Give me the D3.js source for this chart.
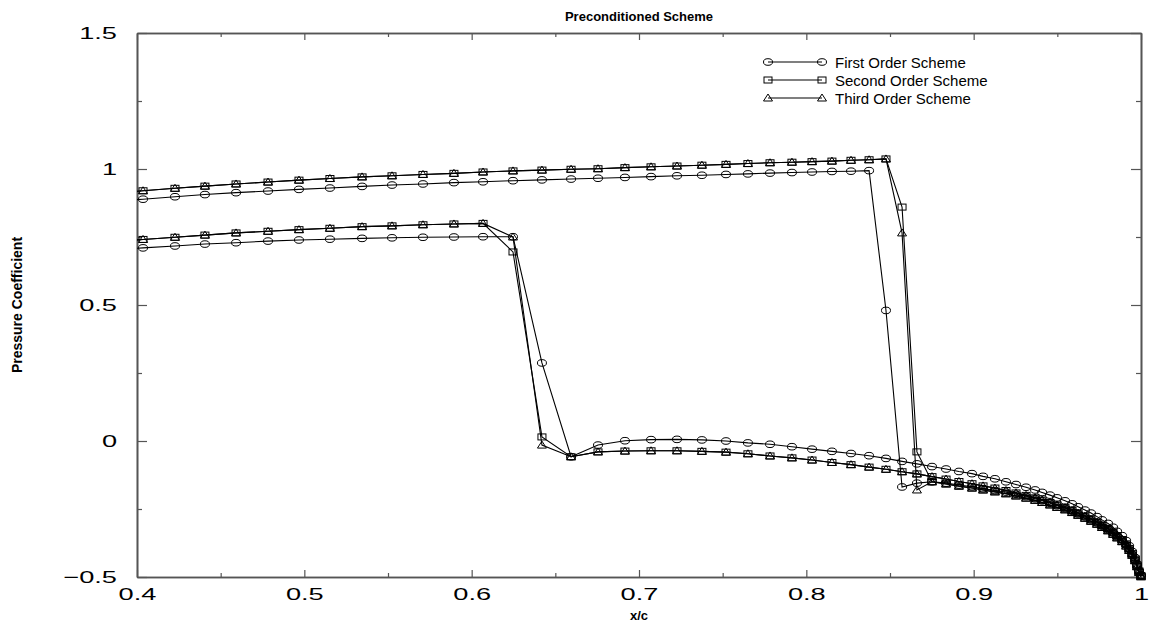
<!DOCTYPE html>
<html>
<head>
<meta charset="utf-8">
<script src="https://cdn.jsdelivr.net/npm/d3@7"></script>
<style>
  body { margin: 0; background: #fff; }
  text { font-family: "Liberation Sans", Arial, Helvetica, sans-serif; }
</style>
</head>
<body>
<script>
// chordwise stations (same grid for every scheme)
var xc = [0.3849, 0.4036, 0.4227, 0.4406, 0.4592, 0.4783, 0.4968, 0.5153, 0.5345, 0.5524,
          0.5709, 0.5894, 0.6068, 0.6247, 0.6420, 0.6594, 0.6755, 0.6916, 0.7072, 0.7227,
          0.7376, 0.7520, 0.7651, 0.7783, 0.7914, 0.8034, 0.8153, 0.8267, 0.8375, 0.8476,
          0.8572, 0.8661, 0.8751, 0.8835, 0.8912, 0.8990, 0.9056, 0.9127, 0.9193, 0.9253,
          0.9313, 0.9367, 0.9409, 0.9456, 0.9498, 0.9546, 0.9588, 0.9624, 0.9665, 0.9701,
          0.9737, 0.9767, 0.9803, 0.9833, 0.9857, 0.9887, 0.9911, 0.9929, 0.9947, 0.9964,
          0.9976, 0.9988, 1.0000];

// first order scheme
var firstUpper = [0.880, 0.889, 0.898, 0.906, 0.913, 0.919, 0.925, 0.930, 0.936, 0.941,
                  0.945, 0.950, 0.953, 0.957, 0.960, 0.963, 0.966, 0.969, 0.972, 0.975,
                  0.977, 0.980, 0.982, 0.985, 0.987, 0.989, 0.991, 0.992, 0.994, 0.480,
                  -0.169, -0.155, -0.150, -0.155, -0.162, -0.168, -0.175, -0.182, -0.188, -0.196,
                  -0.204, -0.212, -0.220, -0.229, -0.238, -0.248, -0.258, -0.268, -0.279, -0.290,
                  -0.301, -0.313, -0.325, -0.338, -0.351, -0.365, -0.381, -0.398, -0.417, -0.437,
                  -0.459, -0.480, -0.497];
var firstLower = [0.703, 0.710, 0.717, 0.724, 0.729, 0.735, 0.739, 0.742, 0.745, 0.747,
                  0.749, 0.750, 0.751, 0.751, 0.287, -0.058, -0.015, 0.001, 0.005, 0.006,
                  0.004, 0.000, -0.007, -0.012, -0.021, -0.030, -0.038, -0.046, -0.054, -0.064,
                  -0.075, -0.084, -0.094, -0.103, -0.112, -0.120, -0.130, -0.139, -0.150, -0.160,
                  -0.170, -0.180, -0.189, -0.199, -0.209, -0.220, -0.231, -0.242, -0.254, -0.265,
                  -0.278, -0.290, -0.303, -0.317, -0.332, -0.348, -0.366, -0.385, -0.406, -0.428,
                  -0.452, -0.476, -0.492];

// second order scheme
var secondUpper = [0.911, 0.920, 0.929, 0.937, 0.945, 0.952, 0.959, 0.965, 0.971, 0.975,
                   0.980, 0.984, 0.989, 0.993, 0.996, 0.999, 1.001, 1.005, 1.008, 1.011,
                   1.014, 1.017, 1.020, 1.023, 1.025, 1.027, 1.029, 1.032, 1.034, 1.037,
                   0.860, -0.040, -0.150, -0.158, -0.166, -0.173, -0.180, -0.187, -0.194, -0.202,
                   -0.210, -0.218, -0.226, -0.235, -0.244, -0.253, -0.263, -0.273, -0.284, -0.295,
                   -0.306, -0.318, -0.330, -0.343, -0.356, -0.370, -0.386, -0.402, -0.420, -0.440,
                   -0.462, -0.483, -0.499];
var secondLower = [0.733, 0.741, 0.749, 0.757, 0.765, 0.771, 0.777, 0.782, 0.788, 0.791,
                   0.795, 0.798, 0.800, 0.695, 0.015, -0.058, -0.040, -0.037, -0.036, -0.036,
                   -0.038, -0.041, -0.047, -0.055, -0.062, -0.070, -0.079, -0.087, -0.096, -0.104,
                   -0.113, -0.121, -0.131, -0.140, -0.149, -0.157, -0.165, -0.173, -0.182, -0.191,
                   -0.200, -0.209, -0.217, -0.226, -0.235, -0.245, -0.255, -0.265, -0.276, -0.287,
                   -0.298, -0.310, -0.322, -0.335, -0.348, -0.362, -0.378, -0.395, -0.414, -0.434,
                   -0.456, -0.478, -0.495];

// third order scheme
var thirdUpper = [0.911, 0.920, 0.929, 0.937, 0.945, 0.952, 0.959, 0.965, 0.971, 0.975,
                  0.980, 0.984, 0.989, 0.993, 0.996, 0.999, 1.001, 1.005, 1.008, 1.011,
                  1.014, 1.017, 1.020, 1.023, 1.025, 1.027, 1.029, 1.032, 1.034, 1.037,
                  0.765, -0.180, -0.150, -0.158, -0.166, -0.173, -0.180, -0.187, -0.194, -0.202,
                  -0.210, -0.218, -0.226, -0.235, -0.244, -0.253, -0.263, -0.273, -0.284, -0.295,
                  -0.306, -0.318, -0.330, -0.343, -0.356, -0.370, -0.386, -0.402, -0.420, -0.440,
                  -0.462, -0.483, -0.499];
var thirdLower = [0.733, 0.741, 0.749, 0.757, 0.765, 0.771, 0.777, 0.782, 0.788, 0.791,
                  0.795, 0.798, 0.800, 0.750, -0.015, -0.058, -0.040, -0.037, -0.036, -0.036,
                  -0.038, -0.041, -0.047, -0.055, -0.062, -0.070, -0.079, -0.087, -0.096, -0.104,
                  -0.113, -0.121, -0.131, -0.140, -0.149, -0.157, -0.165, -0.173, -0.182, -0.191,
                  -0.200, -0.209, -0.217, -0.226, -0.235, -0.245, -0.255, -0.265, -0.276, -0.287,
                  -0.298, -0.310, -0.322, -0.335, -0.348, -0.362, -0.378, -0.395, -0.414, -0.434,
                  -0.456, -0.478, -0.495];

var seriesNames = ["First Order Scheme", "Second Order Scheme", "Third Order Scheme"];
var seriesSymbols = ["circle", "square", "triangle"];

var xTicks = [0.4, 0.5, 0.6, 0.7, 0.8, 0.9, 1.0];
var xTickLabels = ["0.4", "0.5", "0.6", "0.7", "0.8", "0.9", "1"];
var xMinorTicks = [0.45, 0.55, 0.65, 0.75, 0.85, 0.95];
var yTicks = [-0.5, 0, 0.5, 1, 1.5];
var yTickLabels = ["\u22120.5", "0", "0.5", "1", "1.5"];
var yMinorTicks = [-0.25, 0.25, 0.75, 1.25];

var width = 1150, height = 630;
var plotLeft = 137, plotRight = 1141, plotTop = 33, plotBottom = 577;
var frameColor = "#555";

var svg = d3.select("body").append("svg")
    .attr("width", width)
    .attr("height", height);

var x = d3.scaleLinear().domain([0.4, 1.0]).range([plotLeft, plotRight]);
var y = d3.scaleLinear().domain([-0.5, 1.5]).range([plotBottom, plotTop]);

svg.append("clipPath").attr("id", "plotclip")
   .append("rect")
   .attr("x", plotLeft).attr("y", plotTop)
   .attr("width", plotRight - plotLeft).attr("height", plotBottom - plotTop);

// ---- axes (ticks point inward on all four sides)
function styleAxis(g) {
  g.selectAll("path.domain").attr("stroke", frameColor).attr("stroke-width", 1.6);
  g.selectAll(".tick line").attr("stroke", frameColor).attr("stroke-width", 1.2);
}

var xAxisBottom = svg.append("g").attr("transform", "translate(0," + plotBottom + ")")
    .call(d3.axisBottom(x).tickValues(xTicks).tickSize(-7).tickSizeOuter(0).tickPadding(11)
          .tickFormat(function(d, i) { return xTickLabels[i]; }));
svg.append("g").attr("transform", "translate(0," + plotBottom + ")")
    .call(d3.axisBottom(x).tickValues(xMinorTicks).tickSize(-4).tickSizeOuter(0).tickFormat(""))
    .call(styleAxis);
svg.append("g").attr("transform", "translate(0," + plotTop + ")")
    .call(d3.axisTop(x).tickValues(xTicks).tickSize(-7).tickSizeOuter(0).tickFormat(""))
    .call(styleAxis);
svg.append("g").attr("transform", "translate(0," + plotTop + ")")
    .call(d3.axisTop(x).tickValues(xMinorTicks).tickSize(-4).tickSizeOuter(0).tickFormat(""))
    .call(styleAxis);

var yAxisLeft = svg.append("g").attr("transform", "translate(" + plotLeft + ",0)")
    .call(d3.axisLeft(y).tickValues(yTicks).tickSize(-10).tickSizeOuter(0).tickPadding(12.5)
          .tickFormat(function(d, i) { return yTickLabels[i]; }));
svg.append("g").attr("transform", "translate(" + plotLeft + ",0)")
    .call(d3.axisLeft(y).tickValues(yMinorTicks).tickSize(-5).tickSizeOuter(0).tickFormat(""))
    .call(styleAxis);
svg.append("g").attr("transform", "translate(" + plotRight + ",0)")
    .call(d3.axisRight(y).tickValues(yTicks).tickSize(-10).tickSizeOuter(0).tickFormat(""))
    .call(styleAxis);
svg.append("g").attr("transform", "translate(" + plotRight + ",0)")
    .call(d3.axisRight(y).tickValues(yMinorTicks).tickSize(-5).tickSizeOuter(0).tickFormat(""))
    .call(styleAxis);

xAxisBottom.call(styleAxis);
yAxisLeft.call(styleAxis);

// tick labels are stretched sideways like in the original print
[xAxisBottom, yAxisLeft].forEach(function(g) {
  g.selectAll(".tick text")
   .attr("font-family", "'Liberation Sans', Arial, sans-serif")
   .attr("font-size", 17)
   .attr("fill", "#000")
   .attr("transform", "scale(1.6,1)");
});

// ---- markers
function drawSymbol(g, type, cx, cy) {
  if (type == "circle") {
    g.append("ellipse").attr("cx", cx).attr("cy", cy).attr("rx", 4.5).attr("ry", 3.3);
  } else if (type == "square") {
    g.append("rect").attr("x", cx - 4).attr("y", cy - 3).attr("width", 8).attr("height", 6);
  } else {
    g.append("path").attr("d", "M" + (cx - 4.5) + "," + (cy + 3) + "L" + cx + "," + (cy - 4) +
                               "L" + (cx + 4.5) + "," + (cy + 3) + "Z");
  }
}

var line = d3.line()
    .x(function(d) { return x(d[0]); })
    .y(function(d) { return y(d[1]); });

var allSeries = [
  [firstUpper, firstLower],
  [secondUpper, secondLower],
  [thirdUpper, thirdLower]
];

var plot = svg.append("g");

allSeries.forEach(function(branches, s) {
  branches.forEach(function(vals) {
    var pts = xc.map(function(xv, i) { return [xv, vals[i]]; });
    plot.append("path")
        .attr("d", line(pts))
        .attr("clip-path", "url(#plotclip)")
        .attr("fill", "none")
        .attr("stroke", "#000")
        .attr("stroke-width", 1.1);
    var mg = plot.append("g").attr("fill", "none").attr("stroke", "#000").attr("stroke-width", 1);
    pts.filter(function(p) { return p[0] >= 0.4; }).forEach(function(p) {
      drawSymbol(mg, seriesSymbols[s], x(p[0]), y(p[1]));
    });
  });
});

// ---- legend
var legend = svg.append("g");
seriesNames.forEach(function(name, i) {
  var ly = 62 + i * 18;
  legend.append("line")
        .attr("x1", 768).attr("x2", 822).attr("y1", ly).attr("y2", ly)
        .attr("stroke", "#000").attr("stroke-width", 1.1);
  var mg = legend.append("g").attr("fill", "none").attr("stroke", "#000").attr("stroke-width", 1);
  drawSymbol(mg, seriesSymbols[i], 768, ly);
  drawSymbol(mg, seriesSymbols[i], 822, ly);
  legend.append("text")
        .attr("x", 835).attr("y", ly + 5.5)
        .attr("font-size", 15)
        .text(name);
});

// ---- titles
svg.append("text")
   .attr("x", (plotLeft + plotRight) / 2).attr("y", 21)
   .attr("text-anchor", "middle")
   .attr("font-weight", "bold")
   .attr("font-size", 13)
   .text("Preconditioned Scheme");

svg.append("text")
   .attr("x", (plotLeft + plotRight) / 2).attr("y", 620)
   .attr("text-anchor", "middle")
   .attr("font-weight", "bold")
   .attr("font-size", 13)
   .text("x/c");

svg.append("text")
   .attr("transform", "translate(22," + ((plotTop + plotBottom) / 2) + ") rotate(-90)")
   .attr("text-anchor", "middle")
   .attr("font-family", "'Liberation Sans Narrow', 'Liberation Sans', sans-serif")
   .attr("font-weight", "bold")
   .attr("font-size", 14)
   .text("Pressure Coefficient");
</script>
</body>
</html>
